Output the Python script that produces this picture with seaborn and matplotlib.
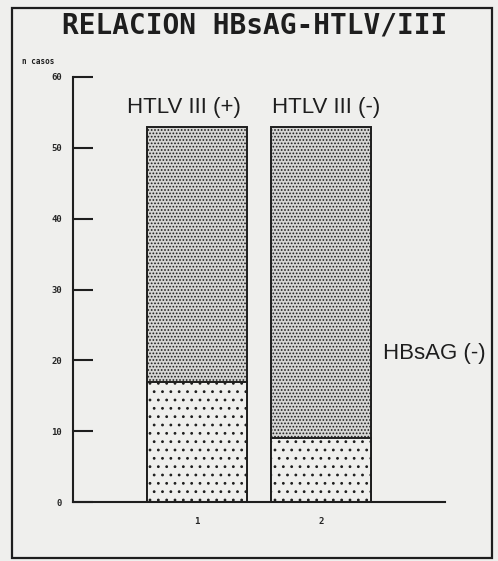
import numpy as np
import seaborn as sns
import matplotlib.pyplot as plt
from matplotlib.patches import Rectangle

# datos
grupos = ['1', '2']
hbsag_pos = [17, 9]      # segmento inferior
hbsag_neg = [36, 44]     # segmento superior
etiquetas_grupo = ['HTLV III (+)', 'HTLV III (-)']
ticks_y = [0, 10, 20, 30, 40, 50, 60]

totales = [a + b for a, b in zip(hbsag_pos, hbsag_neg)]

sns.set_theme(style='ticks')
plt.rcParams['font.family'] = ['Liberation Sans', 'DejaVu Sans']
plt.rcParams['hatch.linewidth'] = 0.8

fondo = '#efefed'
tinta = '#1e1e1e'

fig = plt.figure(figsize=(4.98, 5.61), dpi=100, facecolor=fondo)
ax = fig.add_axes([73 / 498, 59 / 561, 372 / 498, 425 / 561])
ax.set_facecolor(fondo)

# barra total (parte superior con punteado denso)
sns.barplot(x=grupos, y=totales, ax=ax, color='#d6d6d4', edgecolor=tinta,
            linewidth=1.4, hatch='.....', width=0.8, saturation=1)
# parte inferior con punteado ralo
sns.barplot(x=grupos, y=hbsag_pos, ax=ax, color=fondo, edgecolor=tinta,
            linewidth=1.4, hatch='..', width=0.8, saturation=1)

ax.set_xlim(-1, 2)
ax.set_ylim(0, 60)
ax.set_yticks(ticks_y)
ax.set_yticklabels([str(t) for t in ticks_y], fontfamily='DejaVu Sans Mono',
                   fontweight='bold', fontsize=6.5)
ax.set_xticks(range(len(grupos)))
ax.set_xticklabels(grupos, fontfamily='DejaVu Sans Mono', fontweight='bold', fontsize=6.5)
ax.tick_params(axis='y', direction='in', length=14.5, width=1.5, color=tinta, pad=8)
ax.tick_params(axis='x', length=0, pad=11)
ax.set_xlabel('')
ax.set_ylabel('')
for s in ['top', 'right']:
    ax.spines[s].set_visible(False)
for s in ['left', 'bottom']:
    ax.spines[s].set_color(tinta)
    ax.spines[s].set_linewidth(1.5)

# marco exterior
fig.patches.append(Rectangle((12 / 498, 3 / 561), 480 / 498, 550 / 561,
                             transform=fig.transFigure, fill=False,
                             edgecolor=tinta, linewidth=1.6))

fig.text(0.512, 0.955, 'RELACION HBsAG-HTLV/III', ha='center', va='center',
         fontfamily='DejaVu Sans Mono', fontweight='bold', fontsize=20, color=tinta)
fig.text(22 / 498, 1 - 62 / 561, 'n casos', ha='left', va='center',
         fontfamily='DejaVu Sans Mono', fontweight='bold', fontsize=5.5, color=tinta)

fig.text(184 / 498, 1 - 108 / 561, etiquetas_grupo[0], ha='center', va='center',
         fontsize=16, color=tinta)
fig.text(326 / 498, 1 - 108 / 561, etiquetas_grupo[1], ha='center', va='center',
         fontsize=16, color=tinta)
fig.text(434 / 498, 1 - 353 / 561, 'HBsAG (-)', ha='center', va='center',
         fontsize=16, color=tinta)

plt.savefig('out.png', dpi=100, facecolor=fondo)
